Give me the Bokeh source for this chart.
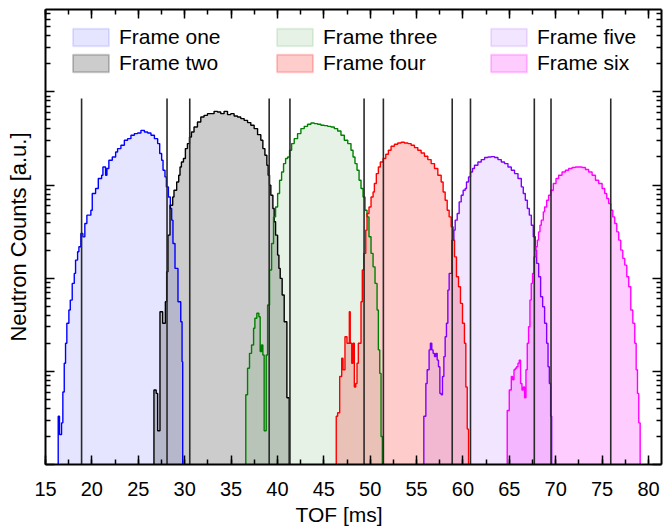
from bokeh.plotting import figure
from bokeh.models import (Legend, LegendItem, LinearAxis, LogAxis, FixedTicker, Title,
                          SingleIntervalTicker, Range1d, CustomJSTickFormatter)
from bokeh.embed import file_html
from bokeh.resources import INLINE

# ---------------- data (TOF in ms, counts in a.u.) ----------------
labels = ["Frame one", "Frame two", "Frame three", "Frame four", "Frame five", "Frame six"]

edges_one = [16.37, 16.51, 16.73, 16.87, 17.02, 17.16, 17.30, 17.52, 17.67, 17.88,
             18.10, 18.24, 18.46, 18.60, 18.81, 19.03, 19.24, 19.46, 19.89, 20.04,
             20.40, 20.69, 21.05, 21.19, 21.48, 21.62, 21.83, 22.20, 22.56, 22.77,
             23.13, 23.50, 23.85, 24.21, 24.58, 24.93, 25.29, 25.66, 26.01, 26.37,
             26.74, 27.09, 27.31, 27.52, 27.67, 27.88, 28.03, 28.25, 28.46, 28.60,
             28.74, 28.96, 29.28, 29.58, 29.72, 29.79]
counts_one = [33, 21, 28, 60, 122, 200, 328, 455, 582, 879,
              1125, 1563, 1919, 2172, 3020, 2779, 3865, 4747, 5370, 8110,
              9170, 11740, 12740, 15640, 12740, 15030, 18450, 20000, 22640, 24600,
              26710, 30200, 31480, 34200, 35640, 36150, 38630, 37060, 36150, 34200,
              31480, 27860, 21780, 18450, 14400, 12220, 9550, 7450, 5600, 4200,
              2360, 1274, 558, 341, 127]

edges_two = [26.69, 26.93, 27.09, 27.34, 27.63, 27.92, 28.06, 28.20, 28.42, 28.71,
             28.85, 29.14, 29.36, 29.50, 29.65, 29.87, 30.08, 30.30, 30.52, 30.73,
             31.01, 31.38, 31.74, 32.09, 32.46, 33.17, 33.54, 33.89, 34.25, 34.62,
             34.97, 35.33, 35.70, 36.05, 36.41, 36.78, 37.13, 37.49, 37.86, 38.21,
             38.43, 38.65, 38.86, 39.00, 39.15, 39.29, 39.51, 39.65, 39.80, 40.02,
             40.16, 40.30, 40.51, 40.73, 41.02, 41.27]
counts_two = [63, 58, 23, 436, 328, 558, 1172, 2897, 6070, 7450,
              8790, 10790, 12740, 15630, 17700, 19230, 24600, 27860, 32800, 37070,
              41970, 47440, 53700, 55980, 58350, 61800, 60800, 58350, 61800, 57000,
              58350, 55080, 53700, 51640, 49450, 46770, 43750, 40360, 34750, 30200,
              24600, 20840, 16290, 12740, 9950, 7780, 5600, 4030, 2897, 1770,
              1274, 995, 659, 341, 52]

edges_three = [36.59, 36.78, 36.99, 37.21, 37.43, 37.57, 37.78, 38.00, 38.14, 38.29,
               38.43, 38.57, 38.79, 38.94, 39.15, 39.37, 39.58, 39.80, 40.02, 40.23,
               40.45, 40.66, 40.88, 41.10, 41.31, 41.53, 41.81, 42.17, 42.53, 42.89,
               43.25, 43.61, 43.97, 44.33, 44.69, 45.05, 45.41, 45.77, 46.13, 46.49,
               46.85, 47.21, 47.58, 47.93, 48.15, 48.36, 48.58, 48.80, 49.01, 49.23,
               49.44, 49.66, 49.87, 50.09, 50.31, 50.52, 50.74, 50.88, 51.03, 51.17,
               51.31]
counts_three = [56, 108, 156, 192, 290, 371, 420, 386, 163, 192,
                150, 23, 150, 515, 1222, 2360, 4550, 5820, 8110, 11250,
                13800, 16980, 19230, 20000, 23600, 27860, 31480, 35640, 40360, 42660,
                44850, 46340, 45640, 44850, 43750, 43400, 42660, 41970, 40360, 38000,
                34200, 30200, 27860, 23600, 20000, 16980, 14420, 11250, 9180, 7450,
                5370, 4550, 2780, 1845, 1324, 879, 455, 170, 95, 20]

edges_four = [46.34, 46.49, 46.71, 46.93, 47.07, 47.28, 47.50, 47.75, 47.85, 48.01,
              48.15, 48.29, 48.44, 48.58, 48.72, 49.01, 49.15, 49.30, 49.52, 49.66,
              49.87, 50.09, 50.31, 50.45, 50.66, 50.88, 51.09, 51.39, 51.68, 51.96,
              52.25, 52.61, 52.97, 53.33, 53.69, 54.06, 54.41, 54.77, 55.13, 55.49,
              55.85, 56.21, 56.57, 56.93, 57.29, 57.65, 57.86, 58.08, 58.30, 58.51,
              58.73, 58.94, 59.09, 59.30, 59.52, 59.73, 59.95, 60.16, 60.31, 60.46,
              60.60]
counts_four = [33, 36, 88, 138, 104, 235, 200, 436, 200, 122,
               200, 68, 74, 122, 200, 558, 1222, 1845, 3280, 4940,
               5820, 7450, 8430, 10370, 13270, 15640, 17700, 19230, 21380, 23600,
               26060, 27360, 28250, 28770, 28250, 27860, 26710, 25230, 23600, 22080,
               20370, 18750, 16980, 15030, 12740, 10790, 8430, 6870, 5370, 4550,
               3555, 2560, 1694, 1035, 809, 537, 328, 200, 68, 24]

edges_five = [55.78, 56.00, 56.14, 56.35, 56.49, 56.64, 56.78, 56.93, 57.08, 57.22,
              57.36, 57.51, 57.65, 57.79, 57.94, 58.08, 58.22, 58.37, 58.51, 58.80,
              59.02, 59.16, 59.38, 59.59, 59.81, 60.02, 60.24, 60.38, 60.60, 60.81,
              61.03, 61.24, 61.61, 61.97, 62.33, 62.69, 63.05, 63.40, 63.77, 64.13,
              64.48, 64.85, 65.21, 65.56, 65.93, 66.29, 66.50, 66.72, 66.94, 67.15,
              67.37, 67.58, 67.80, 67.94, 68.16, 68.37, 68.59, 68.80, 69.02, 69.17,
              69.31, 69.45, 69.56]
counts_five = [33, 74, 104, 170, 200, 170, 156, 144, 156, 132,
               112, 58, 56, 88, 144, 235, 328, 745, 1125, 2560,
               3280, 4200, 4940, 6590, 7780, 8790, 9180, 10790, 12220, 13800,
               15030, 16290, 17700, 18750, 19720, 20000, 20200, 19720, 18750, 17700,
               16980, 15640, 14420, 13270, 11740, 9550, 8110, 6870, 5600, 4747,
               3706, 2780, 2000, 1441, 1035, 632, 493, 328, 200, 112,
               74, 33]

edges_six = [64.77, 64.99, 65.21, 65.35, 65.50, 65.64, 65.78, 65.93, 66.07, 66.21,
             66.36, 66.50, 66.64, 66.79, 66.93, 67.07, 67.22, 67.36, 67.50, 67.65,
             67.87, 68.01, 68.15, 68.30, 68.44, 68.66, 68.80, 69.02, 69.23, 69.45,
             69.74, 70.03, 70.31, 70.68, 71.04, 71.39, 71.76, 72.12, 72.47, 72.84,
             73.20, 73.55, 73.92, 74.28, 74.63, 75.00, 75.28, 75.50, 75.71, 75.93,
             76.15, 76.36, 76.58, 76.79, 77.01, 77.23, 77.44, 77.66, 77.87, 78.09,
             78.31, 78.52, 78.67, 78.81, 78.95, 79.10]
counts_six = [38, 63, 88, 81, 104, 108, 112, 122, 132, 74,
              63, 68, 52, 104, 200, 301, 582, 879, 1125, 1694,
              2172, 2560, 3140, 3706, 4200, 5150, 5820, 6870, 7780, 8790,
              10370, 11740, 12740, 13800, 14420, 15030, 15420, 15640, 15640, 15420,
              14660, 13800, 12740, 11250, 10370, 9180, 8110, 7160, 6340, 5370,
              4550, 3865, 3140, 2560, 2000, 1630, 1380, 1035, 809, 455,
              328, 200, 104, 58, 28]

frame_edges = [18.89, 28.10, 30.55, 39.11, 41.35, 49.34, 51.42, 58.84, 60.81, 67.69, 69.49, 75.93]
frame_edge_top = 85000

y_decades = [10, 100, 1000, 10000, 100000]

line_colors = ["#0000ff", "#000000", "#008000", "#ff0000", "#8000ff", "#ff00ff"]
fill_alphas = [0.10, 0.20, 0.10, 0.20, 0.10, 0.20]

series = [(edges_one, counts_one), (edges_two, counts_two), (edges_three, counts_three),
          (edges_four, counts_four), (edges_five, counts_five), (edges_six, counts_six)]

FLOOR = 1.0
FONT = "Liberation Sans"


def steps(edges, vals):
    xs, ys = [edges[0]], [FLOOR]
    for a, b, v in zip(edges[:-1], edges[1:], vals):
        xs += [a, b]
        ys += [v, v]
    xs.append(edges[-1])
    ys.append(FLOOR)
    return xs, ys


p = figure(width=663, height=532, y_axis_type="log",
           x_range=Range1d(15, 81.4), y_range=Range1d(10, 7.66e5),
           output_backend="svg", toolbar_location=None,
           min_border_left=45, min_border_right=2, min_border_top=9, min_border_bottom=68)
p.outline_line_color = None
p.xgrid.visible = False
p.ygrid.visible = False
p.background_fill_color = "white"
p.border_fill_color = "white"

# fills
step_data = [steps(e, c) for e, c in series]
for (xs, ys), col, a in zip(step_data, line_colors, fill_alphas):
    p.varea(x=xs, y1=[FLOOR] * len(xs), y2=ys, fill_color=col, fill_alpha=a)
# outlines
for (xs, ys), col in zip(step_data, line_colors):
    p.line(xs, ys, line_color=col, line_width=1.4)

# frame boundaries
p.segment(x0=frame_edges, y0=[FLOOR] * len(frame_edges), x1=frame_edges,
          y1=[frame_edge_top] * len(frame_edges), line_color="#2a2a2a", line_width=1.6)

# legend swatches (drawn off-range, only used by the legends)
swatches = []
for col, a in zip(line_colors, fill_alphas):
    r = p.quad(left=[0], right=[1], top=[2], bottom=[1.5], fill_color=col, fill_alpha=a,
               line_color=col, line_alpha=a, line_width=2)
    swatches.append(r)

for k, xloc in enumerate([23, 227, 441]):
    items = [LegendItem(label=labels[2 * k + j], renderers=[swatches[2 * k + j]]) for j in range(2)]
    leg = Legend(items=items, location=(xloc, 389), orientation="vertical",
                 glyph_width=45, glyph_height=22, label_height=22, spacing=2,
                 padding=0, margin=0, label_standoff=6,
                 border_line_color=None, background_fill_alpha=0,
                 label_text_font=FONT, label_text_font_size="21px", label_text_color="black")
    p.add_layout(leg)

# axes
bottom_axis = p.below[0]
left_axis = p.left[0]
blank = CustomJSTickFormatter(code="return ''")
top_axis = LinearAxis(formatter=blank)
right_axis = LogAxis(formatter=blank)
p.add_layout(top_axis, "above")
p.add_layout(right_axis, "right")
left_axis.formatter = blank

minor_y = [m * d for d in y_decades for m in range(2, 10)]
for ax in (bottom_axis, top_axis):
    ax.ticker = SingleIntervalTicker(interval=5, num_minor_ticks=2)
for ax in (left_axis, right_axis):
    ax.ticker = FixedTicker(ticks=y_decades, minor_ticks=minor_y)

for ax in (bottom_axis, top_axis, left_axis, right_axis):
    ax.major_tick_in = 9
    ax.major_tick_out = 0
    ax.minor_tick_in = 5
    ax.minor_tick_out = 0
    ax.axis_line_width = 2
    ax.major_tick_line_width = 1.5
    ax.minor_tick_line_width = 1.5
    ax.axis_line_color = "black"
    ax.major_tick_line_color = "black"
    ax.minor_tick_line_color = "black"
    ax.major_label_text_font = FONT
    ax.axis_label_text_font = FONT
    ax.axis_label_text_font_style = "normal"
    ax.axis_label_text_color = "black"
    ax.major_label_text_color = "black"
for ax in (top_axis, left_axis, right_axis):
    ax.major_label_standoff = 0

bottom_axis.major_label_text_font_size = "20px"
bottom_axis.major_label_standoff = 17

left_axis.axis_label = "Neutron Counts [a.u.]"
left_axis.axis_label_text_font_size = "22px"
left_axis.axis_label_standoff = 15

# x-axis title, slightly left of the frame centre as in the original
p.add_layout(Title(text="TOF [ms]", align="left", offset=250, standoff=4,
                   text_font=FONT, text_font_size="21px", text_font_style="normal",
                   text_color="black"), "below")

open("out.html", "w").write(file_html(p, INLINE))
